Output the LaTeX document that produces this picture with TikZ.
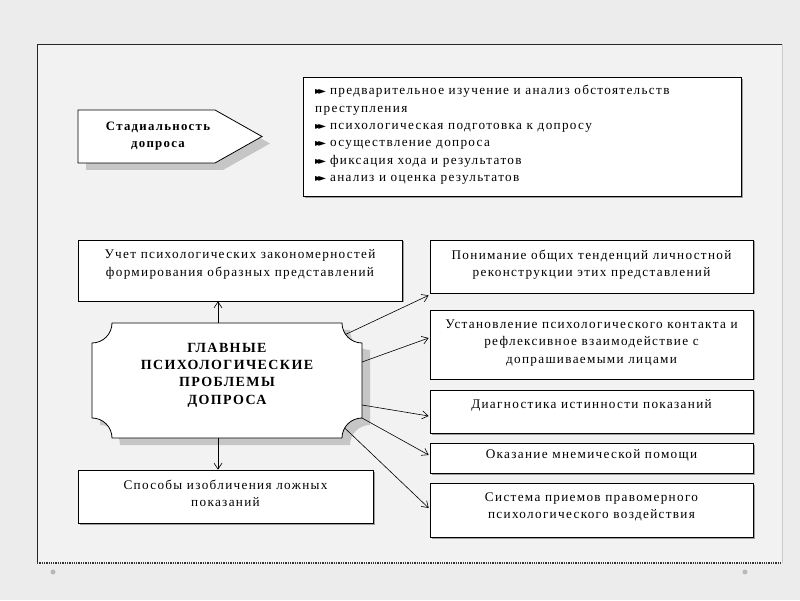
\documentclass[tikz,border=0pt]{standalone}
\usepackage{fontspec}
\setmainfont{Liberation Serif}[LetterSpace=10]
\newfontfamily\symfont{DejaVu Sans}
\usetikzlibrary{arrows.meta,shadows}

\newcommand\pfeil{{\symfont\fontsize{10}{10}\selectfont ►\kern-0.45em►}\hspace{4pt}}
\newcommand\grundtext{\fontsize{13.2}{17.4}\selectfont}
\newcommand\kopftext{\fontsize{14}{17.4}\selectfont\bfseries}

\tikzset{
  box/.style={draw, fill=white, line width=0.7pt, inner sep=0pt, minimum width=323,
    drop shadow={shadow xshift=1.5pt, shadow yshift=-1.5pt, fill=gray!75, opacity=1}},
  txt/.style={anchor=north, align=center, inner sep=0pt, yshift=-10pt, font=\grundtext},
  kopf/.style={align=center, inner sep=0pt, font=\kopftext},
  pil/.style={-{Straight Barb[length=6pt,width=8pt]}, line width=0.6pt},
  schatten/.style={drop shadow={shadow xshift=8pt, shadow yshift=-7pt, fill=gray!45, opacity=1}}
}

\begin{document}
\begin{tikzpicture}[x=1pt,y=1pt]
\useasboundingbox (0,0) rectangle (800,600);
\fill[gray!15] (0,0) rectangle (800,600);
\fill[gray!10] (37,37) rectangle (782,556);
\draw[black!85, line width=0.7pt] (37,37) -- (37,556) -- (782,556);
\draw[gray!40] (782,556) -- (782,37);
\draw[black!80, line width=1.3pt, densely dotted] (37,37) -- (782,37);
\fill[gray!55] (53,28) circle (2.5) (745,28) circle (2.5);

\draw[fill=white, line width=0.8pt, schatten] (78,490) -- (215,490) -- (262,463.5) -- (215,437) -- (78,437) -- cycle;
\node[kopf, font=\fontsize{12.8}{17.4}\selectfont\bfseries] (stadii) at (158,464) {Стадиальность\\допроса};

\node[box, minimum width=438, minimum height=119, anchor=north west] (etapy) at (303,523) {};
\node[anchor=north west, align=left, inner sep=0pt, font=\grundtext] (etapy-t) at (315,515)
  {\pfeil предварительное изучение и анализ обстоятельств\\
   преступления\\
   \pfeil психологическая подготовка к допросу\\
   \pfeil осуществление допроса\\
   \pfeil фиксация хода и результатов\\
   \pfeil анализ и оценка результатов};

\node[box, minimum width=324, minimum height=61, label={[txt]north:{Учет психологических закономерностей\\формирования образных представлений}}] (uchet) at (240,329.5) {};
\node[box, minimum width=295, minimum height=53, label={[txt]north:{Способы изобличения ложных\\показаний}}] (sposoby) at (225.5,103.5) {};

\node[box, minimum height=53, label={[txt]north:{Понимание общих тенденций личностной\\реконструкции этих представлений}}] (ponim) at (591.5,333.5) {};
\node[box, minimum height=69, label={[txt]north:{Установление психологического контакта и\\рефлексивное взаимодействие с\\допрашиваемыми лицами}}] (kontakt) at (591.5,255.5) {};
\node[box, minimum height=43, label={[txt]north:{Диагностика истинности показаний}}] (diag) at (591.5,188.5) {};
\node[box, minimum height=30, label={[txt, yshift=3pt]north:{Оказание мнемической помощи}}] (pomosch) at (591.5,142) {};
\node[box, minimum height=54, label={[txt]north:{Система приемов правомерного\\психологического воздействия}}] (sistema) at (591.5,90) {};

\draw[fill=white, line width=0.8pt, schatten] (112,277) -- (342,277) arc[start angle=180, end angle=270, radius=20]
  -- (362,182) arc[start angle=90, end angle=180, radius=20]
  -- (112,162) arc[start angle=0, end angle=90, radius=20]
  -- (92,257) arc[start angle=270, end angle=360, radius=20] -- cycle;
\node[kopf] (glavnye) at (227,225) {ГЛАВНЫЕ\\ПСИХОЛОГИЧЕСКИЕ\\ПРОБЛЕМЫ\\ДОПРОСА};

\coordinate (g-oben) at (218,277);
\coordinate (g-unten) at (218,162);
\coordinate (g-1) at (345.5,265.5);
\coordinate (g-2) at (362,238);
\coordinate (g-3) at (362,195);
\coordinate (g-4) at (362,182);
\coordinate (g-5) at (344.7,172);

\draw[pil] (g-oben) -- (g-oben |- uchet.south);
\draw[pil] (g-unten) -- (g-unten |- sposoby.north);
\draw[pil] (g-1) -- ([xshift=-1pt,yshift=-2pt]ponim.south west);
\draw[pil] (g-2) -- ([xshift=-1pt,yshift=6.5pt]kontakt.west);
\draw[pil] (g-3) -- ([xshift=-1pt,yshift=-4.5pt]diag.west);
\draw[pil] (g-4) -- ([xshift=-1pt,yshift=3pt]pomosch.west);
\draw[pil] (g-5) -- ([xshift=-1pt,yshift=2pt]sistema.west);
\end{tikzpicture}
\end{document}
